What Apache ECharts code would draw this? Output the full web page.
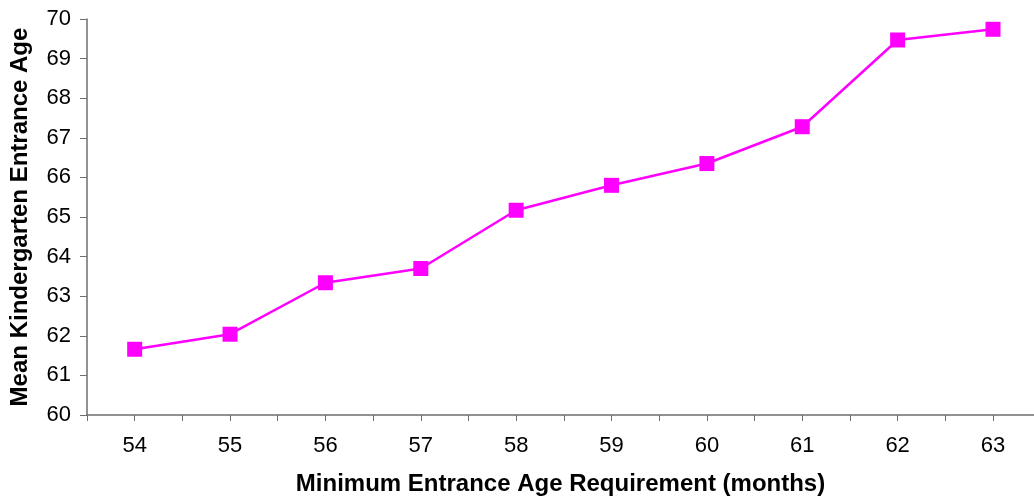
<!DOCTYPE html>
<html>
<head>
<meta charset="utf-8">
<script src="https://cdn.jsdelivr.net/npm/echarts@6/dist/echarts.min.js"></script>
<style>
  html, body { margin: 0; padding: 0; background: #ffffff; }
  #chart { width: 1034px; height: 501px; }
</style>
</head>
<body>
<div id="chart"></div>
<script>
// Minimum entrance age requirement (months) for each group
const entranceAgeRequirement = [54, 55, 56, 57, 58, 59, 60, 61, 62, 63];
// Mean kindergarten entrance age (months) for each requirement
const meanEntranceAge = [61.66, 62.04, 63.34, 63.70, 65.17, 65.80, 66.35, 67.28, 69.47, 69.74];

const xTitle = 'Minimum Entrance Age Requirement (months)';
const yTitle = 'Mean Kindergarten Entrance Age';

const points = entranceAgeRequirement.map((m, i) => [m, meanEntranceAge[i]]);

// Tick marks sit on each month and halfway between neighbouring months
const xTickValues = [];
entranceAgeRequirement.forEach(m => { xTickValues.push(m - 0.5, m); });

const chart = echarts.init(document.getElementById('chart'), null, { renderer: 'canvas' });
const axisGray = '#6e6e6e';
const font = 'Liberation Sans, Arial, sans-serif';

chart.setOption({
  animation: false,
  grid: { left: 86, top: 19, right: 0, height: 397, containLabel: false },
  xAxis: {
    type: 'value',
    min: 53.5,
    max: 63.43,
    name: xTitle,
    nameLocation: 'middle',
    nameGap: 57,
    nameTextStyle: { fontFamily: font, fontSize: 24, fontWeight: 'bold', color: '#000' },
    axisLine: { show: true, lineStyle: { color: axisGray, width: 1.5 } },
    axisTick: { show: true, length: 6, customValues: xTickValues, lineStyle: { color: axisGray, width: 1 } },
    splitLine: { show: false },
    axisLabel: {
      margin: 20,
      fontFamily: font,
      fontSize: 22,
      color: '#000',
      customValues: entranceAgeRequirement
    }
  },
  yAxis: {
    type: 'value',
    min: 60,
    max: 70,
    interval: 1,
    name: yTitle,
    nameLocation: 'middle',
    nameGap: 55,
    nameTextStyle: { fontFamily: font, fontSize: 24, fontWeight: 'bold', color: '#000' },
    axisLine: { show: true, lineStyle: { color: axisGray, width: 1.5 } },
    axisTick: { show: true, length: 7, lineStyle: { color: axisGray, width: 1 } },
    splitLine: { show: false },
    axisLabel: { margin: 16, fontFamily: font, fontSize: 22, color: '#000' }
  },
  series: [{
    type: 'line',
    data: points,
    symbol: 'rect',
    symbolSize: 15,
    lineStyle: { color: '#ff00ff', width: 2.5 },
    itemStyle: { color: '#ff00ff' }
  }]
});
</script>
</body>
</html>
